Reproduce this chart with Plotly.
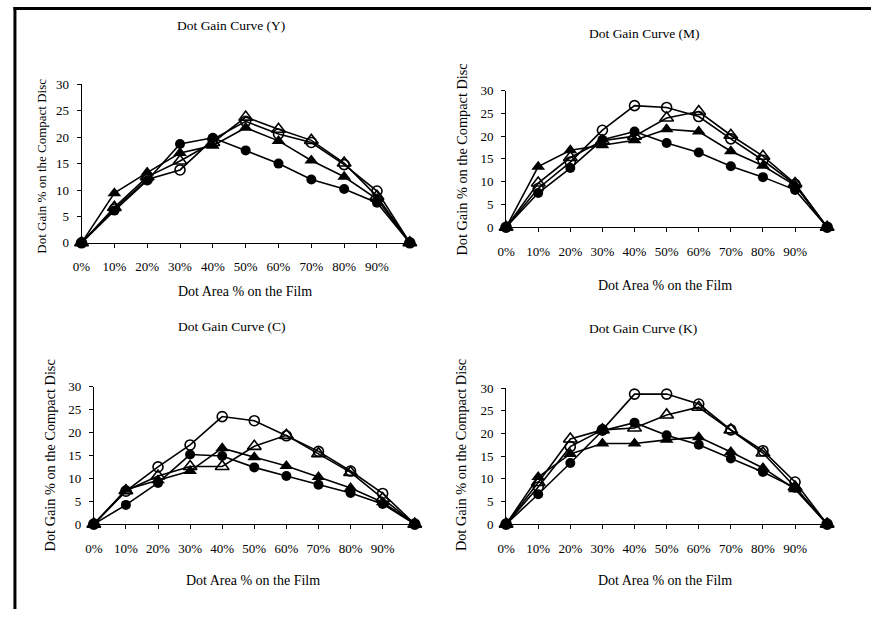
import plotly.graph_objects as go

# ---------------- data ----------------
dot_area = [0, 10, 20, 30, 40, 50, 60, 70, 80, 90, 100]
tick_vals = [0, 10, 20, 30, 40, 50, 60, 70, 80, 90]
tick_text = ["0%", "10%", "20%", "30%", "40%", "50%", "60%", "70%", "80%", "90%"]

y_open_circle = [0, 6.4, 12.0, 13.8, 19.6, 23.0, 20.6, 19.0, 14.8, 9.8, 0]
y_filled_circle = [0, 6.1, 11.8, 18.7, 19.9, 17.5, 15.0, 12.0, 10.2, 7.6, 0]
y_open_triangle = [0, 6.7, 12.5, 15.5, 19.0, 23.8, 21.5, 19.4, 15.1, 8.8, 0]
y_filled_triangle = [0, 9.4, 13.3, 17.0, 18.4, 21.8, 19.3, 15.6, 12.5, 8.3, 0]

m_open_circle = [0, 8.5, 14.3, 21.3, 26.7, 26.3, 24.3, 19.4, 14.7, 9.4, 0]
m_filled_circle = [0, 7.5, 13.0, 19.2, 21.0, 18.5, 16.4, 13.4, 11.0, 8.2, 0]
m_open_triangle = [0, 9.7, 15.3, 19.0, 20.0, 24.0, 25.4, 20.2, 15.6, 9.6, 0]
m_filled_triangle = [0, 13.3, 16.9, 18.0, 19.1, 21.5, 21.0, 16.7, 13.5, 9.2, 0]

c_open_circle = [0, 7.2, 12.5, 17.3, 23.5, 22.6, 19.3, 15.9, 11.6, 6.7, 0]
c_filled_circle = [0, 4.2, 9.0, 15.2, 14.9, 12.4, 10.5, 8.6, 6.8, 4.4, 0]
c_open_triangle = [0, 7.3, 10.5, 12.6, 12.6, 17.0, 19.4, 15.4, 11.3, 5.6, 0]
c_filled_triangle = [0, 7.5, 9.6, 11.6, 16.6, 14.6, 12.7, 10.3, 7.9, 4.8, 0]

k_open_circle = [0, 8.2, 17.1, 20.8, 28.7, 28.7, 26.5, 20.8, 16.2, 9.3, 0]
k_filled_circle = [0, 6.6, 13.5, 20.6, 22.4, 19.6, 17.5, 14.5, 11.5, 8.0, 0]
k_open_triangle = [0, 9.2, 18.8, 20.8, 21.2, 24.1, 25.8, 20.8, 15.7, 8.2, 0]
k_filled_triangle = [0, 10.4, 15.5, 17.8, 17.8, 18.6, 19.2, 15.9, 12.4, 7.7, 0]

chart_titles = ["Dot Gain Curve (Y)", "Dot Gain Curve (M)", "Dot Gain Curve (C)", "Dot Gain Curve (K)"]
x_title = "Dot Area % on the Film"
y_title = "Dot Gain % on the Compact Disc"

# ---------------- layout geometry (pixels) ----------------
W, H = 871, 617
FONT = "Liberation Serif, Times New Roman, serif"

panels = [
    dict(series=(y_open_circle, y_filled_circle, y_open_triangle, y_filled_triangle),
         x0=73.3, x1=405.0, yt=79.3, yb=241.7, title=(224, 19), ytl=(32, 163), xtl=(238, 292), ysz=13),
    dict(series=(m_open_circle, m_filled_circle, m_open_triangle, m_filled_triangle),
         x0=502.3, x1=826.7, yt=85.7, yb=225.7, title=(642, 27), ytl=(458, 156), xtl=(663, 285), ysz=14.3),
    dict(series=(c_open_circle, c_filled_circle, c_open_triangle, c_filled_triangle),
         x0=85.7, x1=410.0, yt=389.3, yb=530.0, title=(225, 327), ytl=(41, 460), xtl=(247, 588), ysz=14.3),
    dict(series=(k_open_circle, k_filled_circle, k_open_triangle, k_filled_triangle),
         x0=502.3, x1=826.7, yt=390.7, yb=530.0, title=(641, 329), ytl=(457, 459), xtl=(663, 588), ysz=14.3),
]

def px_x(x):
    return x / W

def px_y(y):
    return 1 - y / H

fig = go.Figure()
annotations = []

styles = [
    dict(symbol="circle-open", size=10, color="black", line=dict(width=1.6, color="black")),
    dict(symbol="triangle-up-open", size=12, color="black", line=dict(width=1.6, color="black")),
    dict(symbol="circle", size=10, color="black", line=dict(width=0, color="black")),
    dict(symbol="triangle-up", size=12, color="black", line=dict(width=0, color="black")),
]
order = [0, 2, 1, 3]  # open circle, open triangle, filled circle, filled triangle

for i, p in enumerate(panels):
    ax = "" if i == 0 else str(i + 1)
    for k, s_idx in enumerate(order):
        st = styles[k]
        fig.add_trace(go.Scatter(
            x=dot_area, y=p["series"][s_idx], mode="lines+markers",
            xaxis="x" + ax, yaxis="y" + ax, showlegend=False, cliponaxis=False,
            hoverinfo="skip",
            line=dict(color="black", width=1.6),
            marker=dict(symbol=st["symbol"], size=st["size"], color=st["color"], line=st["line"]),
        ))
    xdom = [px_x(p["x0"]), px_x(p["x1"])]
    ydom = [px_y(p["yb"]), px_y(p["yt"])]
    fig.layout["xaxis" + ax] = dict(
        domain=xdom, range=[0, 100], anchor="y" + ax, tickvals=tick_vals, ticktext=tick_text,
        showgrid=False, zeroline=False, showline=True, linecolor="black", linewidth=1,
        ticks="outside", ticklen=4, tickcolor="black", ticklabelstandoff=8,
        tickfont=dict(family=FONT, size=13, color="black"), fixedrange=True,
    )
    fig.layout["yaxis" + ax] = dict(
        domain=ydom, range=[0, 30], anchor="x" + ax, tickvals=[0, 5, 10, 15, 20, 25, 30],
        showgrid=False, zeroline=False, showline=True, linecolor="black", linewidth=1,
        ticks="outside", ticklen=4, tickcolor="black", ticklabelstandoff=5,
        tickfont=dict(family=FONT, size=13, color="black"), fixedrange=True,
    )
    annotations.append(dict(text=chart_titles[i], x=px_x(p["title"][0]), y=px_y(p["title"][1]),
                            xref="paper", yref="paper", showarrow=False, xanchor="center", yanchor="middle",
                            font=dict(family=FONT, size=13.5, color="black")))
    annotations.append(dict(text=y_title, x=px_x(p["ytl"][0]), y=px_y(p["ytl"][1]), textangle=-90,
                            xref="paper", yref="paper", showarrow=False, xanchor="center", yanchor="middle",
                            font=dict(family=FONT, size=p["ysz"], color="black")))
    annotations.append(dict(text=x_title, x=px_x(p["xtl"][0]), y=px_y(p["xtl"][1]),
                            xref="paper", yref="paper", showarrow=False, xanchor="center", yanchor="middle",
                            font=dict(family=FONT, size=14, color="black")))

shapes = [
    dict(type="line", xref="paper", yref="paper", x0=px_x(6), x1=px_x(6), y0=0, y1=1,
         line=dict(color="black", width=3)),
    dict(type="line", xref="paper", yref="paper", x0=px_x(4.5), x1=1, y0=px_y(1.5), y1=px_y(1.5),
         line=dict(color="black", width=3)),
]

fig.update_layout(
    width=W, height=H, autosize=False,
    margin=dict(l=0, r=0, t=0, b=0, pad=0),
    paper_bgcolor="white", plot_bgcolor="white",
    annotations=annotations, shapes=shapes, hovermode=False,
    font=dict(family=FONT, color="black"),
)

fig.write_html("out.html",
               config={"displayModeBar": False, "staticPlot": True},
               post_script="document.body.style.margin='0';document.body.style.overflow='hidden';")
